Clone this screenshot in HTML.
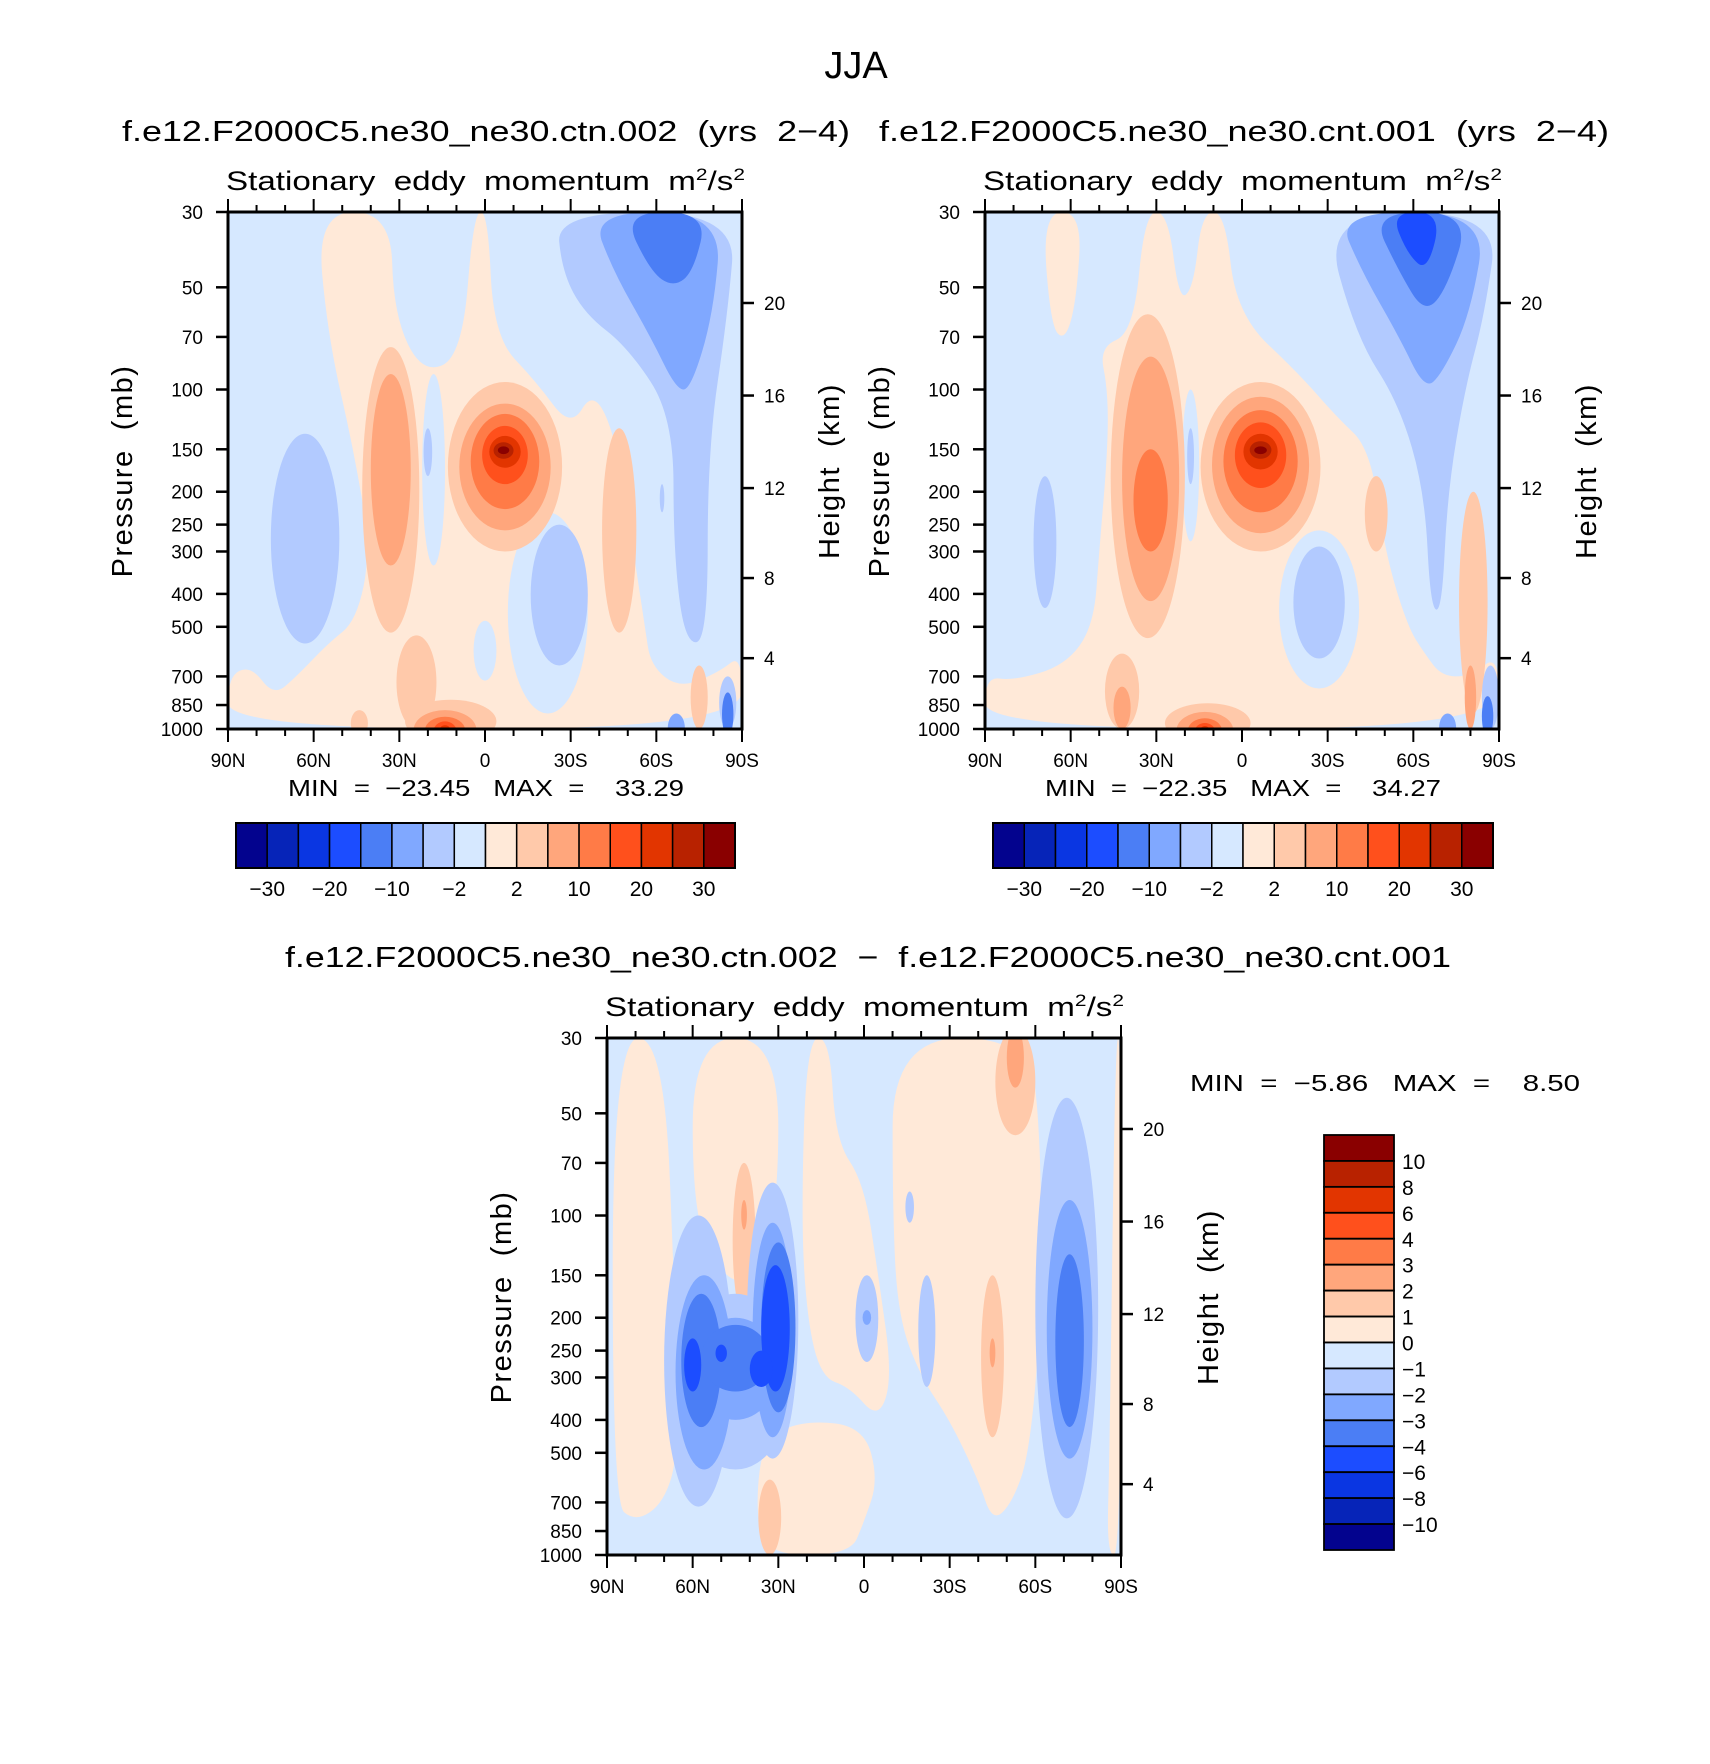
<!DOCTYPE html>
<html><head><meta charset="utf-8"><style>
html,body{margin:0;padding:0;background:#fff;}
svg{display:block;font-family:"Liberation Sans",sans-serif;}
svg text{white-space:pre;}
</style></head><body>
<svg id="chart" width="1710" height="1764" viewBox="0 0 1710 1764" xmlns="http://www.w3.org/2000/svg"></svg>
<script>
// ---------- data ----------
const pressureLevels = [30,50,70,100,150,200,250,300,400,500,700,850,1000];
const latTicks = [90,60,30,0,-30,-60,-90];
const latLabels = ["90N","60N","30N","0","30S","60S","90S"];
const kmLabels = ["20","16","12","8","4"];
const kmFractions = [0.176,0.355,0.534,0.708,0.863];
const colors = ["#03038e","#0624b8","#0a36e2","#1c4dff","#4b7ef5","#80a8ff","#b2caff","#d6e8ff","#ffe9d8","#ffc9aa","#ffa67c","#ff7b47","#ff501c","#e23500","#b82200","#8a0000"];
const fullLabels = ["-30","-20","-10","-2","2","10","20","30"];
const diffLabels = ["10","8","6","4","3","2","1","0","-1","-2","-3","-4","-6","-8","-10"];
const minMaxA = ["-23.45","33.29"];
const minMaxB = ["-22.35","34.27"];
const minMaxD = ["-5.86","8.50"];

// shapes: polygons [level, [[lat,p],...]] and ellipses [level, lat, halfLat, pTop, pBot]
const polysA = [
 [8,[[59,30],[33,30],[32,60],[22,90],[8,80],[4,30],[-1,30],[-3,70],[-18,95],[-30,130],[-38,100],[-46,140],[-52,300],[-56,500],[-58,650],[-68,760],[-82,680],[-90,600],[-90,1000],[90,1000],[90,700],[82,650],[74,800],[66,700],[55,560],[45,480],[40,300],[46,150],[55,70]]],
 [6,[[-25,30],[-88,30],[-85,60],[-78,150],[-78,550],[-70,560],[-66,300],[-66,120],[-50,75],[-35,60],[-27,45]]],
 [5,[[-37,30],[-83,30],[-80,60],[-72,100],[-67,100],[-58,70],[-45,45]]],
 [4,[[-48,30],[-78,30],[-73,45],[-66,50],[-58,45]]]
];
const ellA = [
 [7,18,4,90,330],[6,20,1.5,130,180],[7,0,4,480,720],[7,-22,14,230,900],[6,-26,10,250,650],
 [6,63,12,135,560],[9,33,10,75,520],[10,33,7,90,330],
 [9,-7,20,95,300],[10,-7,16,110,260],[11,-7,12,118,225],[12,-7,8,128,190],[13,-7,5.5,137,170],[14,-6.5,3.5,143,160],[15,-6.5,2,147,155],
 [9,-47,6,130,520],[9,24,7,530,1000],[9,12,16,820,1100],[10,14,11,880,1150],[11,14,7,920,1100],[12,14,4,950,1080],[13,14,2,975,1050],
 [9,44,3,880,1050],[9,-75,3,650,1000],[5,-67,3,900,1100],[6,-85,3,700,1000],[4,-85,2,780,1050],[6,-62,0.8,190,230]
];
const polysB = [
 [8,[[70,30],[56,30],[58,55],[62,72],[67,65]]],
 [8,[[34,30],[26,30],[22,55],[17,50],[14,30],[6,30],[2,60],[-20,90],[-33,120],[-45,150],[-50,300],[-58,500],[-64,600],[-70,700],[-80,700],[-90,600],[-90,1000],[90,1000],[90,700],[80,720],[62,650],[52,500],[50,300],[47,150],[47,100],[50,75],[38,68]]],
 [6,[[-28,30],[-90,30],[-85,60],[-78,100],[-72,200],[-70,450],[-66,440],[-64,200],[-55,110],[-40,70]]],
 [5,[[-33,30],[-86,30],[-80,60],[-70,90],[-64,100],[-55,70],[-42,45]]],
 [4,[[-45,30],[-80,30],[-72,50],[-64,60],[-55,45]]],
 [3,[[-52,30],[-70,30],[-65,45],[-58,40]]]
];
const ellB = [
 [7,18,3,100,280],[6,18,1.2,130,190],[6,69,4,180,440],[7,-27,14,260,760],[6,-27,9,290,620],
 [9,33,13,60,540],[10,32,10,80,420],[11,32,6,150,300],
 [9,-6.5,21,95,300],[10,-6.5,17,105,265],[11,-6.5,13,115,230],[12,-6.5,9,125,195],[13,-6.5,6,135,172],[14,-6.5,3.8,142,160],[15,-6.5,2.2,147,155],
 [9,-47,4,180,300],[9,-81,5,200,900],[10,-80,2,650,1000],
 [9,42,6,600,1000],[10,42,3,750,1000],[9,12,15,840,1100],[10,13,10,890,1150],[11,13,6,930,1100],[12,13,3.5,960,1070],[13,13,1.8,980,1050],
 [5,-72,3,900,1100],[6,-87,3,650,1000],[4,-86,2,800,1050]
];
const polysD = [
 [8,[[88,30],[70,30],[66,200],[65,500],[70,700],[80,800],[88,700]]],
 [8,[[60,30],[30,30],[30,100],[40,160],[50,150],[60,100]]],
 [8,[[20,30],[12,30],[10,60],[0,80],[-5,150],[-10,300],[-5,400],[5,320],[15,300],[20,200],[22,100]]],
 [8,[[-10,30],[-58,30],[-62,60],[-62,200],[-58,500],[-52,700],[-45,800],[-40,600],[-30,400],[-20,300],[-12,200],[-10,100]]],
 [8,[[35,450],[20,400],[0,420],[-5,600],[0,800],[5,1000],[35,1000],[38,700]]],
 [8,[[-88,30],[-90,30],[-90,1000],[-85,1000],[-86,500]]]
];
const ellD = [
 [9,-53,7,28,58],[10,-53,3,28,42],[9,42,4,70,200],[10,42,1,90,110],[9,-45,4,150,450],[10,-45,1,230,280],[9,33,4,600,1000],
 [6,58,12,100,720],[6,32,9,80,520],[6,45,20,170,560],
 [5,56,10,150,560],[5,32,7,105,450],[5,45,15,200,400],
 [4,57,7,170,420],[4,30,6,120,380],[4,45,12,210,330],
 [3,60,3,230,330],[3,50,2,240,270],[3,31,5,140,330],[3,36,4,250,320],
 [6,-71,11,45,780],[5,-72,8,90,520],[4,-72,5,130,420],
 [6,-22,3,150,320],[6,-1,4,150,270],[5,-1,1.5,190,210],[6,-16,1.5,85,105]
];

// ---------- drawing ----------
const svg = document.getElementById('chart');
const NS = 'http://www.w3.org/2000/svg';
function mk(tag, attrs, parent){
  const e = document.createElementNS(NS, tag);
  for (const k in attrs) e.setAttribute(k, attrs[k]);
  (parent||svg).appendChild(e);
  return e;
}
function txt(s, x, y, size, anchor, parent, extra){
  const t = mk('text', Object.assign({x:x, y:y, 'font-size':size, 'text-anchor':anchor||'middle', fill:'#000'}, extra||{}), parent);
  t.textContent = s;
  return t;
}
const W = 514, H = 517;
function makeAxes(X0, Y0){
  const xs = lat => X0 + (90 - lat) / 180 * W;
  const ys = p => Y0 + Math.log(p/30) / Math.log(1000/30) * H;
  return {xs, ys};
}
function smoothPath(pts){
  const n = pts.length;
  const mid = (a,b) => [(a[0]+b[0])/2, (a[1]+b[1])/2];
  let m = mid(pts[n-1], pts[0]);
  let d = 'M' + m[0].toFixed(1) + ',' + m[1].toFixed(1);
  for (let i=0;i<n;i++){
    const p = pts[i], q = mid(pts[i], pts[(i+1)%n]);
    d += ' Q' + p[0].toFixed(1) + ',' + p[1].toFixed(1) + ' ' + q[0].toFixed(1) + ',' + q[1].toFixed(1);
  }
  return d + 'Z';
}
function drawPanel(id, X0, Y0, polys, ells){
  const ax = makeAxes(X0, Y0);
  const g = mk('g', {});
  
  
  const cp = mk('clipPath', {id: id+'-clip'}, g);
  mk('rect', {x:X0, y:Y0, width:W, height:H}, cp);
  const field = mk('g', {'clip-path':'url(#'+id+'-clip)'}, g);
  
  
  const bg = mk('rect', {x:X0, y:Y0, width:W, height:H, fill:colors[7]}, field);
  
  
  polys.forEach(pg => {
    const pts = pg[1].map(q => [ax.xs(q[0]), ax.ys(q[1])]);
    const el = mk('path', {d: smoothPath(pts), fill: colors[pg[0]]}, field);
    
    
  });
  ells.forEach(e => {
    const cx = ax.xs(e[1]), rx = e[2] / 180 * W;
    const y1 = ax.ys(e[3]), y2 = ax.ys(e[4]);
    const el = mk('ellipse', {cx:cx, cy:(y1+y2)/2, rx:rx, ry:(y2-y1)/2, fill: colors[e[0]]}, field);
    
    
  });
  const fr = mk('rect', {x:X0, y:Y0, width:W, height:H, fill:'none', stroke:'#000', 'stroke-width':3}, g);
  
  
  for (let lat=90; lat>=-90; lat-=10){
    const x = ax.xs(lat), major = (lat % 30 === 0);
    const L = major ? 13 : 7;
    mk('line', {x1:x, y1:Y0, x2:x, y2:Y0-L, stroke:'#000', 'stroke-width':2}, g);
    mk('line', {x1:x, y1:Y0+H, x2:x, y2:Y0+H+L, stroke:'#000', 'stroke-width':2}, g);
  }
  latTicks.forEach((lat,i) => {
    const t = txt(latLabels[i], ax.xs(lat), Y0+H+38, 19, 'middle', g);
    
    
  });
  pressureLevels.forEach(p => {
    const y = ax.ys(p);
    mk('line', {x1:X0, y1:y, x2:X0-12, y2:y, stroke:'#000', 'stroke-width':2.5}, g);
    const t = txt(String(p), X0-25, y+7, 19, 'end', g);
    
    
  });
  kmFractions.forEach((f,i) => {
    const y = Y0 + f*H;
    mk('line', {x1:X0+W, y1:y, x2:X0+W+12, y2:y, stroke:'#000', 'stroke-width':2.5}, g);
    const t = txt(kmLabels[i], X0+W+22, y+7, 19, 'start', g);
    
    
  });
  const yt = txt('Pressure  (mb)', 0, 0, 29, 'middle', g, {transform:'translate('+(X0-96)+','+(Y0+259)+') rotate(-90)', 'letter-spacing':'1.5'});
  
  
  const ht = txt('Height  (km)', 0, 0, 29, 'middle', g, {transform:'translate('+(X0+W+97)+','+(Y0+259)+') rotate(-90)', 'letter-spacing':'1.5'});
  
  
  const st = mk('text', {x:X0-2, y:Y0-22, 'font-size':27, 'text-anchor':'start', textLength:W+5, lengthAdjust:'spacingAndGlyphs'}, g);
  st.innerHTML = 'Stationary  eddy  momentum  m<tspan dy="-10" font-size="17">2</tspan><tspan dy="10">/s</tspan><tspan dy="-10" font-size="17">2</tspan>';
  
  
  return ax;
}
function hColorbar(x0, x1, y0, y1, name){
  const g = mk('g', {});
  
  
  const bw = (x1-x0)/16;
  colors.forEach((c,i) => {
    const r = mk('rect', {x:x0+i*bw, y:y0, width:bw, height:y1-y0, fill:c, stroke:'#000', 'stroke-width':1.5}, g);
    
    
  });
  mk('rect', {x:x0, y:y0, width:x1-x0, height:y1-y0, fill:'none', stroke:'#000', 'stroke-width':2}, g);
  fullLabels.forEach((s,i) => {
    const t = txt(s.replace('-', '\u2212'), x0+(1+2*i)*bw, y1+28, 21, 'middle', g);
    
    
  });
}

const tt = txt('JJA', 856, 78, 38, 'middle');


const t1 = txt('f.e12.F2000C5.ne30_ne30.ctn.002  (yrs  2\u22124)', 122, 141, 29, 'start', svg, {textLength:728, lengthAdjust:'spacingAndGlyphs'});


const t2 = txt('f.e12.F2000C5.ne30_ne30.cnt.001  (yrs  2\u22124)', 879, 141, 29, 'start', svg, {textLength:730, lengthAdjust:'spacingAndGlyphs'});


const t3 = txt('f.e12.F2000C5.ne30_ne30.ctn.002  \u2212  f.e12.F2000C5.ne30_ne30.cnt.001', 285, 967, 29, 'start', svg, {textLength:1166, lengthAdjust:'spacingAndGlyphs'});



drawPanel('ctn', 228, 212, polysA, ellA);
drawPanel('cnt', 985, 212, polysB, ellB);
drawPanel('diff', 607, 1038, polysD, ellD);

function minmax(arr, x, y, len, name){
  const t = txt('MIN  =  ' + arr[0].replace('-', '\u2212') + '   MAX  =    ' + arr[1], x, y, 23, 'start', svg, {textLength:len, lengthAdjust:'spacingAndGlyphs'});
  
  
}
minmax(minMaxA, 288, 796, 396, 'ctn-min-max');
minmax(minMaxB, 1045, 796, 396, 'cnt-min-max');
minmax(minMaxD, 1190, 1091, 390, 'diff-min-max');

hColorbar(236, 735, 823, 868, 'ctn-colorbar');
hColorbar(993, 1493, 823, 868, 'cnt-colorbar');

(function(){
  const g = mk('g', {});
  
  
  const x0 = 1324, x1 = 1394, y0 = 1135, y1 = 1550, bh = (y1-y0)/16;
  for (let i=0;i<16;i++){
    const r = mk('rect', {x:x0, y:y0+i*bh, width:x1-x0, height:bh, fill:colors[15-i], stroke:'#000', 'stroke-width':1.8}, g);
    
    
  }
  diffLabels.forEach((s,i) => {
    const t = txt(s.replace('-', '\u2212'), x1+8, y0+(i+1)*bh+8, 21, 'start', g);
    
    
  });
})();
</script>
</body></html>
